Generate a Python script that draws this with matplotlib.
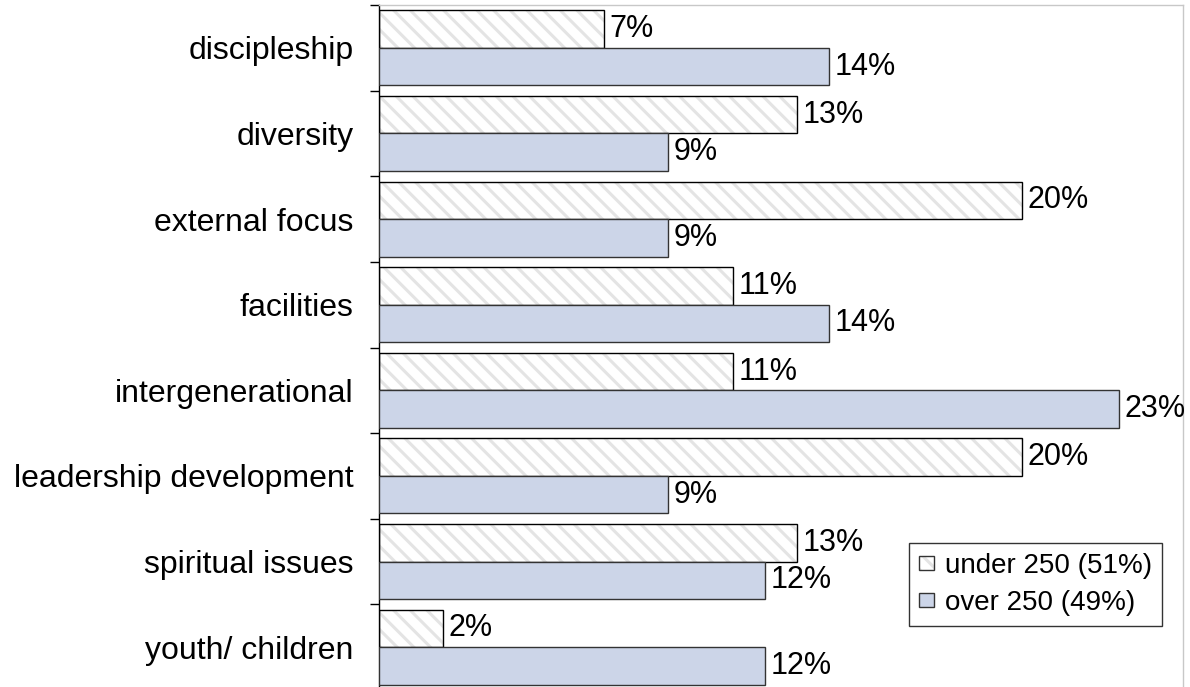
import matplotlib
matplotlib.use("Agg")
import matplotlib.pyplot as plt
from matplotlib.patches import Patch
from matplotlib.ticker import FixedLocator

plt.rcParams['font.family'] = ['Liberation Sans', 'DejaVu Sans']
plt.rcParams['hatch.linewidth'] = 2.2

categories = ["discipleship", "diversity", "external focus", "facilities",
              "intergenerational", "leadership development", "spiritual issues",
              "youth/ children"]
under_250 = [7, 13, 20, 11, 11, 20, 13, 2]
over_250 = [14, 9, 9, 14, 23, 9, 12, 12]
series_labels = ["under 250 (51%)", "over 250 (49%)"]

FS_CAT = 23
FS_VAL = 22
FS_LEG = 20
blue = "#CCD5E8"
hatch_gray = "#e4e4e4"

fig = plt.figure(figsize=(11.90, 6.87), dpi=100)
ax = fig.add_axes([379 / 1190, -3 / 687, 804 / 1190, 685 / 687])

y = list(range(len(categories)))
h = 0.438
y_under = [v - h / 2 for v in y]
y_over = [v + h / 2 for v in y]

# hatched layer, then a crisp black outline on top
ax.barh(y_under, under_250, height=h, color="white", edgecolor=hatch_gray,
        linewidth=0, hatch="\\\\", zorder=2)
under_bars = ax.barh(y_under, under_250, height=h, color="none",
                     edgecolor="black", linewidth=1.0, zorder=3)
over_bars = ax.barh(y_over, over_250, height=h, color=blue,
                    edgecolor="#333333", linewidth=1.0, zorder=3)

ax.bar_label(under_bars, labels=[f"{v}%" for v in under_250], padding=4, fontsize=FS_VAL)
ax.bar_label(over_bars, labels=[f"{v}%" for v in over_250], padding=4, fontsize=FS_VAL)

ax.set_xlim(0, 25)
ax.set_ylim(len(categories) - 0.5, -0.5)
ax.set_xticks([])
ax.set_yticks(y)
ax.set_yticklabels(categories, fontsize=FS_CAT)
ax.tick_params(axis="y", which="major", length=0, pad=18.5)
ax.yaxis.set_minor_locator(FixedLocator([v - 0.5 for v in range(len(categories) + 1)]))
ax.tick_params(axis="y", which="minor", length=6.5, width=1, color="black")

ax.spines["left"].set_color("black")
ax.spines["left"].set_linewidth(1)
for s in ("top", "right", "bottom"):
    ax.spines[s].set_color("#c8c8c8")
    ax.spines[s].set_linewidth(1)

h_under = (Patch(facecolor="white", edgecolor=hatch_gray, linewidth=0, hatch="\\\\"),
           Patch(facecolor="none", edgecolor="#333333", linewidth=1))
h_over = Patch(facecolor=blue, edgecolor="#333333", linewidth=1)
leg = ax.legend([h_under, h_over], series_labels, fontsize=FS_LEG,
                loc="upper right", bbox_to_anchor=(0.974, 0.2146),
                fancybox=False, framealpha=1, edgecolor="#333333",
                handlelength=0.55, handleheight=0.4, handletextpad=0.4,
                borderpad=0.36, labelspacing=0.4, borderaxespad=0)
leg.get_frame().set_linewidth(1)

fig.savefig("out.png", dpi=100)
